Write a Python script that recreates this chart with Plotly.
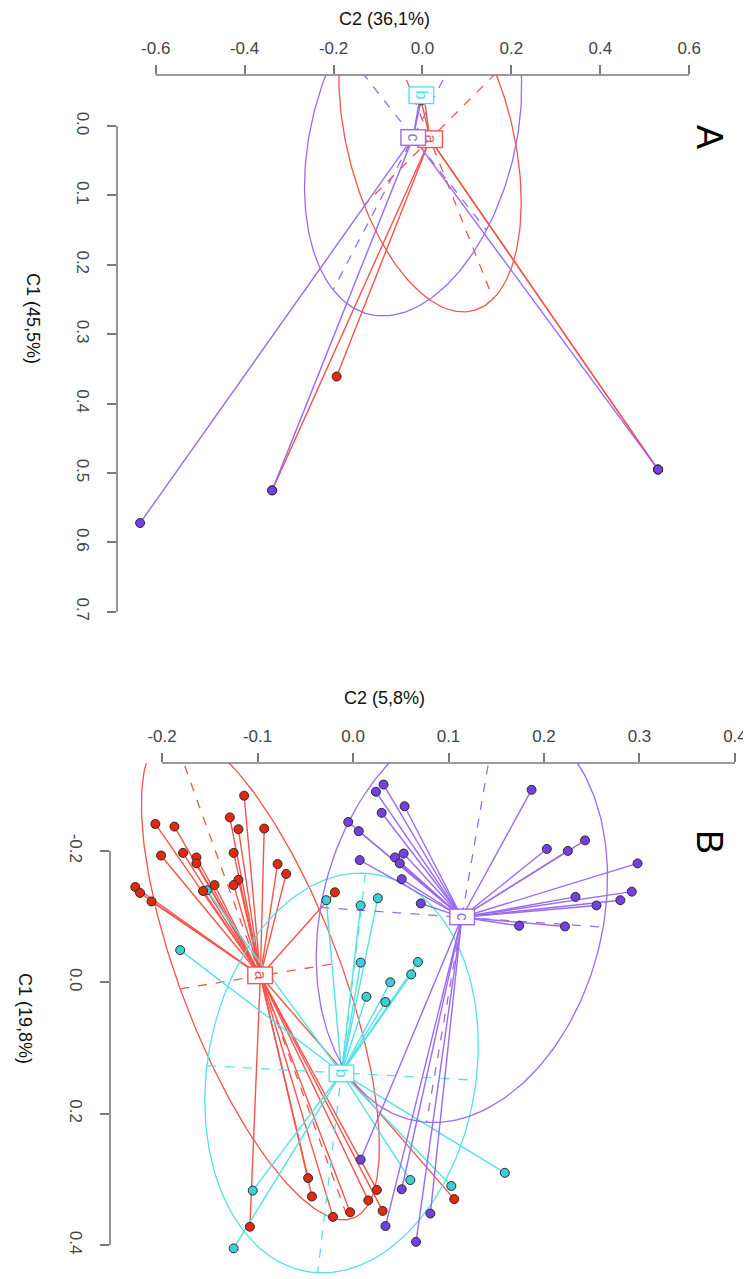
import numpy as np
import plotly.graph_objects as go

FONT = "Liberation Sans, Arial, Helvetica, sans-serif"
W, H = 751, 1279
OFF = 8                      # default body margin of the html page
FW, FH = W - OFF, H - OFF    # figure size so the plot lands on the target pixels

classes = ["a", "b", "c"]
line_colors = {"a": "#F4544A", "b": "#52E2E6", "c": "#9B6AF0"}
fill_colors = {"a": "#E3280E", "b": "#3BD0D6", "c": "#7440E0"}

# ---------------- panel A (C2 across, C1 down) ----------------
A_cent_c2 = [0.017, -0.002, -0.021]          # a, b, c
A_cent_c1 = [0.019, -0.045, 0.016]

A_a_c2 = [-0.193, -0.338, 0.530, 0.530, -0.003, 0.004]
A_a_c1 = [0.361, 0.525, 0.495, 0.495, -0.037, -0.040]
A_b_c2 = [-0.002, -0.002, -0.002]
A_b_c1 = [-0.045, -0.045, -0.045]
A_c_c2 = [-0.635, -0.338, 0.530, -0.003, -0.006]
A_c_c1 = [0.572, 0.525, 0.495, -0.037, -0.040]

# ellipse conjugate half-axes: [u_c2, u_c1, v_c2, v_c1]
A_ell_a = [0.142, 0.230, -0.148, 0.095]
A_ell_b = [0.0, 0.0, 0.0, 0.0]
A_ell_c = [-0.180, 0.220, 0.165, 0.134]

A_xticks = [-0.6, -0.4, -0.2, 0.0, 0.2, 0.4, 0.6]
A_xlabels = ["-0.6", "-0.4", "-0.2", "0.0", "0.2", "0.4", "0.6"]
A_yticks = [0.0, 0.1, 0.2, 0.3, 0.4, 0.5, 0.6, 0.7]
A_ylabels = ["0.0", "0.1", "0.2", "0.3", "0.4", "0.5", "0.6", "0.7"]

# ---------------- panel B ----------------
B_cent_c2 = [-0.097, -0.012, 0.114]
B_cent_c1 = [-0.010, 0.138, -0.099]

B_a_c2 = [-0.114, -0.207, -0.187, -0.129, -0.120, -0.093, -0.201, -0.178, -0.164, -0.164,
          -0.125, -0.079, -0.070, -0.228, -0.223, -0.211, -0.157, -0.145, -0.120, -0.125,
          -0.019, -0.047, -0.043, -0.021, -0.003, 0.016, 0.025, 0.031, 0.106, -0.108]
B_a_c1 = [-0.284, -0.241, -0.237, -0.251, -0.233, -0.234, -0.193, -0.197, -0.190, -0.181,
          -0.197, -0.180, -0.165, -0.145, -0.136, -0.123, -0.139, -0.148, -0.156, -0.148,
          -0.137, 0.298, 0.326, 0.357, 0.350, 0.332, 0.316, 0.348, 0.330, 0.372]
B_b_c2 = [-0.153, -0.181, -0.028, 0.008, 0.026, 0.008, 0.068, 0.061, 0.039, 0.014, 0.034,
          -0.105, -0.125, 0.060, 0.103, 0.159]
B_b_c1 = [-0.140, -0.049, -0.125, -0.117, -0.128, -0.030, -0.031, -0.012, 0.000, 0.022, 0.030,
          0.317, 0.405, 0.301, 0.310, 0.290]
B_c_c2 = [0.032, 0.024, 0.054, 0.030, -0.005, 0.006, 0.053, 0.044, 0.049, 0.007, 0.051, 0.071,
          0.187, 0.203, 0.225, 0.243, 0.298, 0.233, 0.255, 0.280, 0.292, 0.174, 0.222,
          0.008, 0.051, 0.034, 0.066, 0.081]
B_c_c1 = [-0.301, -0.290, -0.268, -0.258, -0.244, -0.230, -0.196, -0.190, -0.181, -0.186, -0.157, -0.120,
          -0.293, -0.203, -0.200, -0.216, -0.181, -0.130, -0.117, -0.125, -0.138, -0.086, -0.085,
          0.270, 0.315, 0.371, 0.395, 0.352]

B_ell_a = [0.092, 0.371, 0.084, -0.020]
B_ell_b = [-0.025, 0.304, 0.141, 0.011]
B_ell_c = [-0.037, 0.312, 0.148, 0.015]

B_xticks = [-0.2, -0.1, 0.0, 0.1, 0.2, 0.3, 0.4]
B_xlabels = ["-0.2", "-0.1", "0.0", "0.1", "0.2", "0.3", "0.4"]
B_yticks = [-0.2, 0.0, 0.2, 0.4]
B_ylabels = ["-0.2", "0.0", "0.2", "0.4"]


def pxx(p):
    # page pixel -> paper x
    return (p - OFF) / FW


def pxy(p):
    # page pixel -> paper y
    return 1 - (p - OFF) / FH


def add_panel(fig, xa, ya, cent_c2, cent_c1, pts, ells):
    t = np.linspace(0, 2 * np.pi, 240)
    # ellipses, their axes and the star segments
    for i, k in enumerate(classes):
        cx, cy = cent_c2[i], cent_c1[i]
        col = line_colors[k]
        u2, u1, v2, v1 = ells[k]
        if u1 or u2:
            fig.add_trace(go.Scatter(
                x=cx + u2 * np.cos(t) + v2 * np.sin(t),
                y=cy + u1 * np.cos(t) + v1 * np.sin(t),
                mode="lines", line=dict(color=col, width=1.3),
                xaxis=xa, yaxis=ya, hoverinfo="skip"))
            fig.add_trace(go.Scatter(
                x=[cx - u2, cx + u2, None, cx - v2, cx + v2],
                y=[cy - u1, cy + u1, None, cy - v1, cy + v1],
                mode="lines", line=dict(color=col, width=1.3, dash="dash"),
                xaxis=xa, yaxis=ya, hoverinfo="skip"))
        px, py = pts[k]
        sx, sy = [], []
        for x, y in zip(px, py):
            sx += [cx, x, None]
            sy += [cy, y, None]
        fig.add_trace(go.Scatter(x=sx, y=sy, mode="lines",
                                 line=dict(color=col, width=1.4),
                                 xaxis=xa, yaxis=ya, hoverinfo="skip"))
    # points: cyan first, then red, purple on top
    for k in ["b", "a", "c"]:
        px, py = pts[k]
        fig.add_trace(go.Scatter(
            x=px, y=py, mode="markers", cliponaxis=False,
            marker=dict(size=9, color=fill_colors[k],
                        line=dict(color="#2b2b2b", width=1)),
            xaxis=xa, yaxis=ya, name=k))
    # class labels
    for i, k in enumerate(classes):
        fig.add_annotation(
            x=cent_c2[i], y=cent_c1[i], xref=xa, yref=ya, text=k,
            showarrow=False, textangle=90, bgcolor="white",
            xanchor="center", yanchor="middle",
            bordercolor=line_colors[k], borderwidth=1.4, borderpad=3,
            font=dict(family=FONT, size=16, color=line_colors[k]))


fig = go.Figure()

add_panel(fig, "x", "y", A_cent_c2, A_cent_c1,
          {"a": (A_a_c2, A_a_c1), "b": (A_b_c2, A_b_c1), "c": (A_c_c2, A_c_c1)},
          {"a": A_ell_a, "b": A_ell_b, "c": A_ell_c})
add_panel(fig, "x2", "y2", B_cent_c2, B_cent_c1,
          {"a": (B_a_c2, B_a_c1), "b": (B_b_c2, B_b_c1), "c": (B_c_c2, B_c_c1)},
          {"a": B_ell_a, "b": B_ell_b, "c": B_ell_c})

# plot regions (page pixel edges of the R plot boxes)
A_left, A_right, A_top, A_bottom = 117, 751, 75, 650
B_left, B_right, B_top, B_bottom = 110, 751, 763, 1279

tick_common = dict(ticks="outside", ticklen=9, tickwidth=1.5, tickcolor="#7a7a7a",
                   showgrid=False, zeroline=False, showline=False,
                   tickfont=dict(family=FONT, size=17, color="#444"))

fig.update_layout(
    width=FW, height=FH, autosize=False,
    margin=dict(l=0, r=0, t=0, b=0),
    paper_bgcolor="white", plot_bgcolor="white",
    showlegend=False,
    xaxis=dict(domain=[pxx(A_left), pxx(A_right)], anchor="y", side="top",
               range=[-0.687, 0.739], tickvals=A_xticks, ticktext=A_xlabels,
               ticklabelstandoff=4, **tick_common),
    yaxis=dict(domain=[pxy(A_bottom), pxy(A_top)], anchor="x",
               range=[0.755, -0.0735], tickvals=A_yticks, ticktext=A_ylabels,
               tickangle=90, ticklabelstandoff=10, **tick_common),
    xaxis2=dict(domain=[pxx(B_left), pxx(B_right)], anchor="y2", side="top",
                range=[-0.2545, 0.4168], tickvals=B_xticks, ticktext=B_xlabels,
                ticklabelstandoff=4, **tick_common),
    yaxis2=dict(domain=[max(pxy(B_bottom), 0), pxy(B_top)], anchor="x2",
                range=[0.4516, -0.3338], tickvals=B_yticks, ticktext=B_ylabels,
                tickangle=90, ticklabelstandoff=10, **tick_common),
)

# R style axis lines that only span the tick range
axis_line = dict(color="#7a7a7a", width=1.6)
fig.add_shape(type="line", xref="x", yref="paper", x0=-0.6, x1=0.6,
              y0=pxy(A_top), y1=pxy(A_top), line=axis_line)
fig.add_shape(type="line", xref="paper", yref="y", x0=pxx(A_left), x1=pxx(A_left),
              y0=0.0, y1=0.7, line=axis_line)
fig.add_shape(type="line", xref="x2", yref="paper", x0=-0.2, x1=0.4,
              y0=pxy(B_top), y1=pxy(B_top), line=axis_line)
fig.add_shape(type="line", xref="paper", yref="y2", x0=pxx(B_left), x1=pxx(B_left),
              y0=-0.2, y1=0.4, line=axis_line)

# axis titles and panel letters
titles = [
    ("C2 (36,1%)", 385, 19, 0),
    ("C1 (45,5%)", 33, 318, 90),
    ("C2 (5,8%)", 384, 698, 0),
    ("C1 (19,8%)", 25, 1018, 90),
]
for txt, px, py, ang in titles:
    fig.add_annotation(x=pxx(px), y=pxy(py), xref="paper", yref="paper",
                       text=txt, showarrow=False, textangle=ang,
                       xanchor="center", yanchor="middle",
                       font=dict(family=FONT, size=18, color="#111"))

for txt, px, py in [("A", 710, 137), ("B", 710, 842)]:
    fig.add_annotation(x=pxx(px), y=pxy(py), xref="paper", yref="paper",
                       text=txt, showarrow=False, textangle=90,
                       xanchor="center", yanchor="middle",
                       font=dict(family=FONT, size=36, color="#000"))

fig.write_html("out.html")
